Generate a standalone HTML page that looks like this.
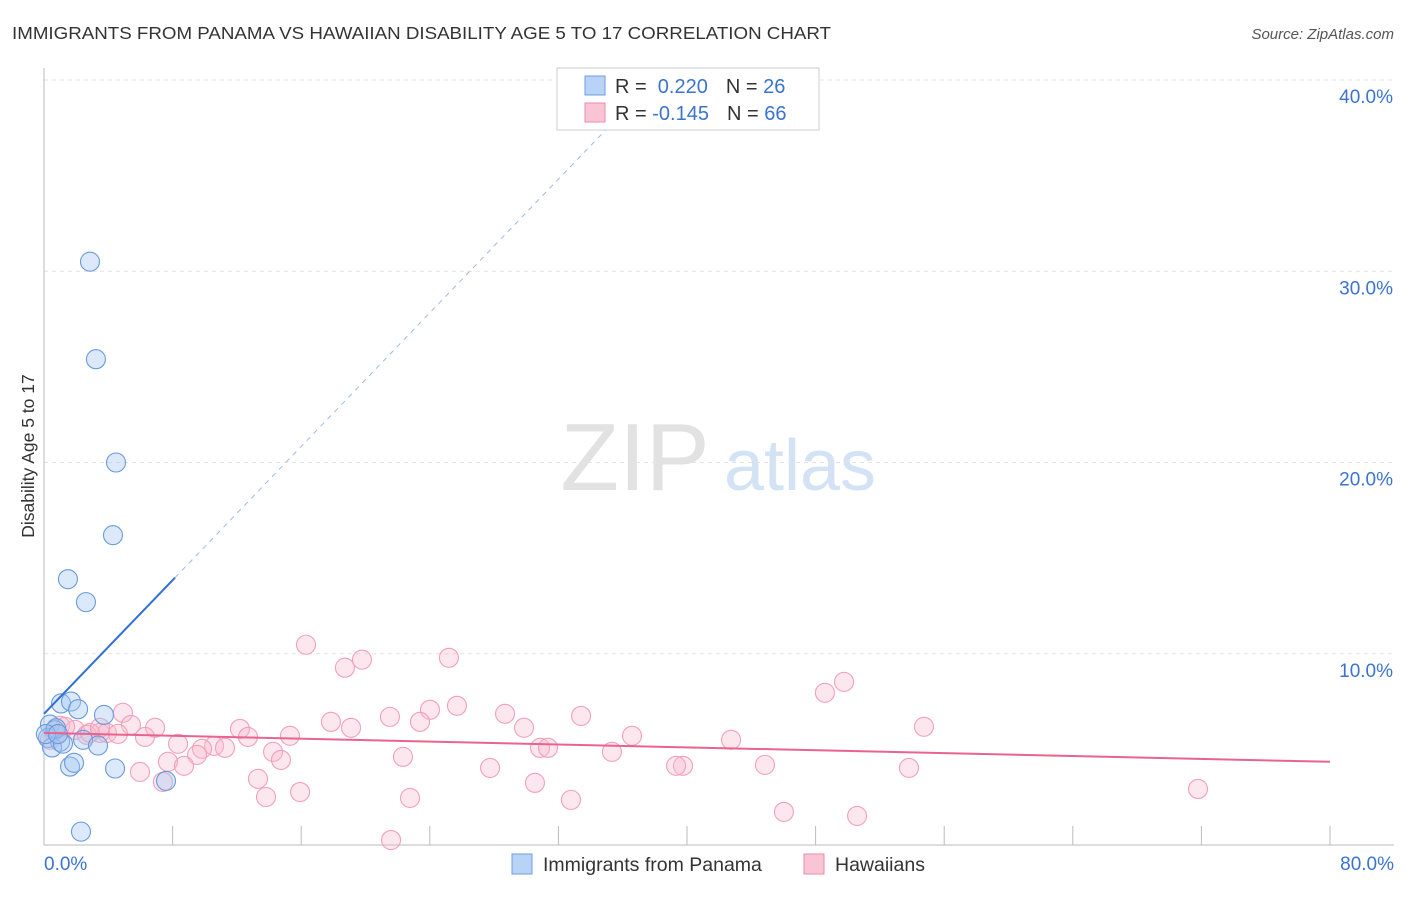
<!DOCTYPE html>
<html><head><meta charset="utf-8"><style>
body{margin:0;background:#fff;font-family:"Liberation Sans",sans-serif;}
svg text{font-family:"Liberation Sans",sans-serif;}
</style></head><body>
<svg width="1406" height="892" viewBox="0 0 1406 892">
<text x="12" y="39" font-size="17.5" fill="#333" textLength="819" lengthAdjust="spacingAndGlyphs">IMMIGRANTS FROM PANAMA VS HAWAIIAN DISABILITY AGE 5 TO 17 CORRELATION CHART</text>
<text x="1394" y="39" font-size="15" fill="#555" font-style="italic" text-anchor="end">Source: ZipAtlas.com</text>
<text x="34" y="456" font-size="17.5" fill="#333" text-anchor="middle" transform="rotate(-90 34 456)">Disability Age 5 to 17</text>
<g><text x="635" y="490" font-size="96" font-family="Liberation Serif" fill="#e2e2e2" text-anchor="middle">ZIP</text><text x="800" y="490" font-size="72" fill="#d3e2f4" text-anchor="middle">atlas</text></g>
<g id="grid"></g><g id="axes"></g><g id="trend"></g><g id="pts"></g>
<g>
<rect x="557" y="68" width="262" height="62" fill="#fff" stroke="#ccc"/>
<rect x="585" y="76" width="20" height="19" fill="#b8d3f5" stroke="#6e9ee0"/>
<rect x="585" y="103" width="20" height="19" fill="#f9c4d4" stroke="#f08aa8"/>
<text x="615" y="93" font-size="20" fill="#333">R = <tspan fill="#3a74d0">&#160;0.220</tspan><tspan dx="18">N = </tspan><tspan fill="#3a74d0">26</tspan></text>
<text x="615" y="120" font-size="20" fill="#333">R = <tspan fill="#3a74d0">-0.145</tspan><tspan dx="18">N = </tspan><tspan fill="#3a74d0">66</tspan></text>
</g>
<g>
<rect x="512" y="854" width="20" height="20" fill="#b8d3f5" stroke="#6e9ee0"/>
<text x="543" y="871" font-size="19.5" fill="#333">Immigrants from Panama</text>
<rect x="804" y="854" width="20" height="20" fill="#f9c4d4" stroke="#f08aa8"/>
<text x="835" y="871" font-size="19.5" fill="#333">Hawaiians</text>
</g>
</svg>
<script>
const xMin=0,xMax=80,yMin=0,yMax=40;
const yTicks=[10,20,30,40];
const yTickLabels=["10.0%","20.0%","30.0%","40.0%"];
const xEndLabels=["0.0%","80.0%"];
const panamaX=[2.86,3.23,4.48,4.29,1.49,2.61,1.06,1.68,2.12,3.73,0.37,0.68,0.25,1.0,0.5,1.18,2.43,3.36,1.62,1.87,4.42,7.59,2.30,0.75,0.12,0.87];
const panamaY=[30.5,25.4,20.0,16.2,13.9,12.7,7.4,7.5,7.1,6.8,6.3,6.0,5.6,5.4,5.1,5.3,5.5,5.2,4.1,4.3,4.0,3.35,0.7,6.1,5.8,5.8];
const hawX=[16.3,18.72,19.78,25.19,49.77,48.58,4.91,25.69,24.01,21.52,17.85,23.39,28.68,33.41,54.74,5.41,6.91,12.19,19.10,29.86,1.0,1.93,3.48,3.92,2.67,4.60,6.28,12.69,15.30,36.58,42.74,8.34,10.58,9.83,11.26,30.86,31.35,14.25,35.33,9.52,14.74,22.33,7.71,8.71,39.75,39.32,44.85,27.75,53.81,5.97,13.31,30.54,7.40,15.93,13.81,22.77,32.78,71.79,46.03,50.58,21.59,0.68,1.31,2.86,0.37,3.48];
const hawY=[10.47,9.27,9.69,9.79,8.53,7.96,6.91,7.28,7.07,6.70,6.44,6.44,6.86,6.75,6.18,6.28,6.13,6.07,6.13,6.13,6.23,6.02,5.86,5.86,5.76,5.81,5.65,5.65,5.71,5.71,5.50,5.29,5.18,5.03,5.08,5.08,5.08,4.87,4.87,4.71,4.45,4.61,4.35,4.14,4.14,4.14,4.19,4.03,4.03,3.82,3.46,3.25,3.30,2.77,2.51,2.46,2.36,2.93,1.73,1.52,0.26,5.76,6.18,5.86,5.50,6.13];
const panamaTrend=[0,6.86,8.15,13.98];
const hawTrend=[0,5.86,80,4.35];
const X0=44,X1=1330,Y0=845,Y1=80;
const sx=v=>X0+(v-xMin)/(xMax-xMin)*(X1-X0);
const sy=v=>Y0-(v-yMin)/(yMax-yMin)*(Y0-Y1);
const NS="http://www.w3.org/2000/svg";
function mk(t,a,p){const e=document.createElementNS(NS,t);for(const k in a)e.setAttribute(k,a[k]);p.appendChild(e);return e;}
const grid=document.getElementById('grid'),axes=document.getElementById('axes'),trend=document.getElementById('trend'),pts=document.getElementById('pts');
yTicks.forEach((t,i)=>{
 const l=mk('line',{x1:X0,x2:1394,y1:sy(t),y2:sy(t),stroke:'#e2e2e2','stroke-dasharray':'4 4'},grid);
 
 
 const tx=mk('text',{x:1393,y:sy(t)+23,'font-size':19,fill:'#3a74d0','text-anchor':'end'},axes);
 tx.textContent=yTickLabels[i];
 
 
});
mk('line',{x1:X0,x2:X0,y1:68,y2:Y0,stroke:'#bbb'},axes);
mk('line',{x1:X0,x2:1394,y1:Y0,y2:Y0,stroke:'#bbb'},axes);
for(let i=1;i<=10;i++){const v=i*8;
 const tk=mk('line',{x1:sx(v),x2:sx(v),y1:826,y2:Y0,stroke:'#bbb'},axes);
 
 
}
const xl0=mk('text',{x:44,y:870,'font-size':19,fill:'#3a74d0'},axes);xl0.textContent=xEndLabels[0];


const xl1=mk('text',{x:1394,y:870,'font-size':19,fill:'#3a74d0','text-anchor':'end'},axes);xl1.textContent=xEndLabels[1];


function drawPts(xs,ys,fill,stroke,name){xs.forEach((x,i)=>{
 const c=mk('circle',{cx:sx(x),cy:sy(ys[i]),r:9.5,fill:fill,stroke:stroke,'stroke-width':1.1},pts);
 
 
});}
drawPts(hawX,hawY,'rgba(248,185,205,0.35)','#f2a0ba','hawaiians-point');
drawPts(panamaX,panamaY,'rgba(165,200,242,0.4)','#6a9adc','panama-point');
const slope=(panamaTrend[3]-panamaTrend[1])/(panamaTrend[2]-panamaTrend[0]);
const xTop=panamaTrend[2]+(yMax-panamaTrend[3])/slope;
const d=mk('line',{x1:sx(panamaTrend[2]),y1:sy(panamaTrend[3]),x2:sx(xTop),y2:sy(yMax),stroke:'#9bbbe8','stroke-dasharray':'5 5','stroke-width':1},trend);


const pl=mk('line',{x1:sx(panamaTrend[0]),y1:sy(panamaTrend[1]),x2:sx(panamaTrend[2]),y2:sy(panamaTrend[3]),stroke:'#2f6fd6','stroke-width':2},pts);


const hl=mk('line',{x1:sx(hawTrend[0]),y1:sy(hawTrend[1]),x2:sx(hawTrend[2]),y2:sy(hawTrend[3]),stroke:'#e8648e','stroke-width':2},pts);


</script>
</body></html>
